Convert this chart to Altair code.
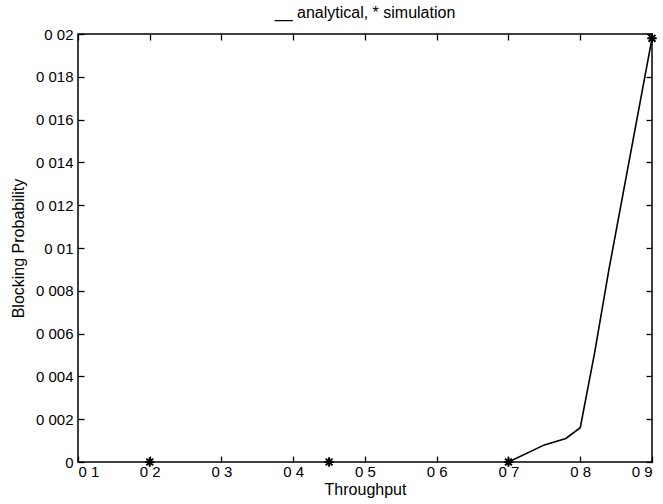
import altair as alt
import pandas as pd

# Analytical curve (solid line)
ana_x = [0.70, 0.75, 0.78, 0.80, 0.82, 0.84, 0.90]
ana_y = [0.0, 0.0008, 0.0011, 0.0016, 0.0051, 0.0090, 0.0198]

# Simulation points (asterisks)
sim_x = [0.20, 0.45, 0.70, 0.90]
sim_y = [0.0, 0.0, 0.0, 0.0198]

x_ticks = [0.1, 0.2, 0.3, 0.4, 0.5, 0.6, 0.7, 0.8, 0.9]
y_ticks = [0.0, 0.002, 0.004, 0.006, 0.008, 0.010, 0.012, 0.014, 0.016, 0.018, 0.020]

ana = pd.DataFrame({"x": ana_x, "y": ana_y})
sim = pd.DataFrame({"x": sim_x, "y": sim_y})

FONT = "Liberation Sans"
xs = alt.Scale(domain=[0.1, 0.9], nice=False, zero=False)
ys = alt.Scale(domain=[0.0, 0.02], nice=False, zero=False)

x_label_expr = "replace(format(datum.value, '.1f'), '.', ' ')"
y_label_expr = "datum.value == 0 ? '0' : replace(format(datum.value, '~g'), '.', ' ')"

common = dict(domain=False, grid=False, tickColor="black", tickWidth=1.3,
              tickSize=6, offset=-6, labelFont=FONT, labelFontSize=15,
              labelColor="black", titleFont=FONT, titleFontSize=16,
              titleColor="black", titleFontWeight="normal")

bottom = alt.Axis(orient="bottom", values=x_ticks, labelExpr=x_label_expr,
                  labelPadding=2, title="Throughput", titlePadding=2, **common)
left = alt.Axis(orient="left", values=y_ticks, labelExpr=y_label_expr,
                labelPadding=5, title="Blocking Probability", titlePadding=9, **common)
top = alt.Axis(orient="top", values=x_ticks, labels=False, title=None, **common)
right = alt.Axis(orient="right", values=y_ticks, labels=False, title=None, **common)

line = alt.Chart(ana).mark_line(color="black", strokeWidth=1.6).encode(
    x=alt.X("x:Q", scale=xs, axis=bottom),
    y=alt.Y("y:Q", scale=ys, axis=left),
)

asterisk = "M-1,0H1M0,-1V1M-0.72,-0.72L0.72,0.72M-0.72,0.72L0.72,-0.72"
pts = alt.Chart(sim).mark_point(shape=asterisk, filled=False, color="black",
                                strokeWidth=2, size=90, opacity=1).encode(
    x=alt.X("x:Q", scale=xs, axis=None),
    y=alt.Y("y:Q", scale=ys, axis=None),
)

frame = alt.Chart(sim).mark_point(opacity=0).encode(
    x=alt.X("x:Q", scale=xs, axis=top),
    y=alt.Y("y:Q", scale=ys, axis=right),
)

chart = alt.layer(line, pts, frame).resolve_axis(x="independent", y="independent").properties(
    width=574,
    height=428,
    autosize=alt.AutoSizeParams(type="none"),
    padding={"left": 78, "top": 34, "right": 11, "bottom": 42},
    title=alt.TitleParams("__ analytical, * simulation", font=FONT, fontSize=16,
                          fontWeight="normal", color="black", anchor="middle", offset=6),
).configure(background="white").configure_view(stroke="black", strokeWidth=1.5)

chart.save("out.html", embed_options={"renderer": "svg", "actions": False})
